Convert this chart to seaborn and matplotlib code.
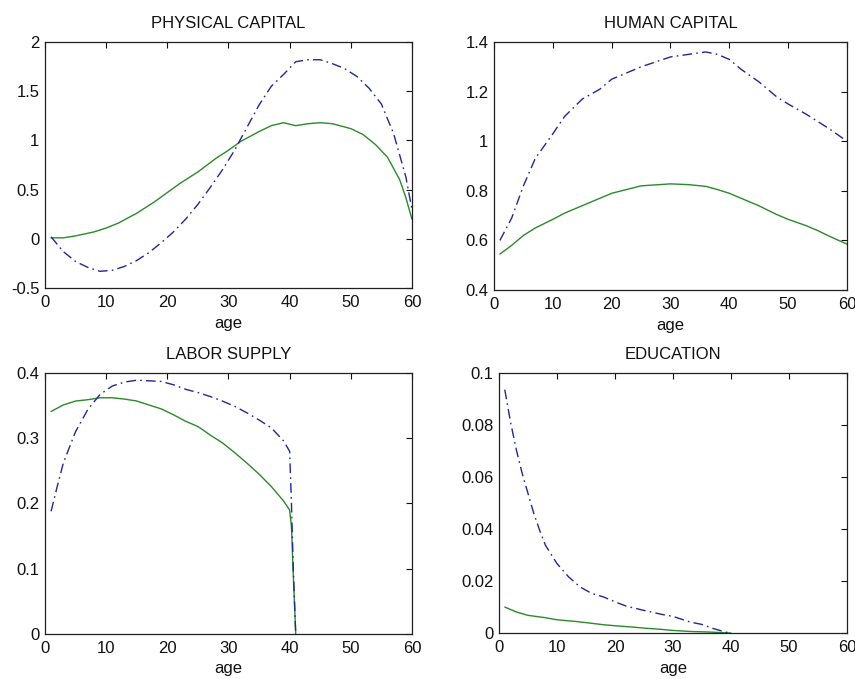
import matplotlib
matplotlib.use('Agg')
import matplotlib.pyplot as plt
import numpy as np
import pandas as pd
import seaborn as sns

# -- Data -----------------------------------------------------------------
# PHYSICAL CAPITAL
pk_age_green = [1, 3, 5, 8, 10, 12, 15, 18, 20, 22, 25, 28, 30, 32, 35, 37, 39, 41, 43, 45, 47, 50, 52, 54, 56, 58, 59, 60]
pk_green = [0.01, 0.01, 0.03, 0.07, 0.11, 0.16, 0.26, 0.38, 0.47, 0.56, 0.68, 0.82, 0.9, 0.99, 1.09, 1.15, 1.18, 1.15, 1.17, 1.18, 1.17, 1.12, 1.06, 0.96, 0.83, 0.6, 0.42, 0.2]
pk_age_blue = [1, 3, 5, 7, 9, 11, 13, 15, 17, 19, 21, 23, 25, 27, 29, 31, 33, 35, 37, 39, 41, 43, 45, 47, 49, 51, 53, 55, 57, 59, 60]
pk_blue = [0.02, -0.13, -0.23, -0.29, -0.33, -0.32, -0.28, -0.22, -0.14, -0.04, 0.07, 0.2, 0.35, 0.52, 0.7, 0.9, 1.13, 1.36, 1.55, 1.67, 1.8, 1.82, 1.82, 1.78, 1.73, 1.65, 1.53, 1.37, 1.07, 0.63, 0.3]

# HUMAN CAPITAL
hk_age = [1, 3, 5, 7, 10, 12, 15, 18, 20, 25, 30, 33, 36, 38, 40, 42, 45, 48, 50, 53, 55, 57, 60]
hk_blue = [0.6, 0.69, 0.82, 0.93, 1.03, 1.1, 1.17, 1.21, 1.25, 1.3, 1.34, 1.35, 1.36, 1.35, 1.33, 1.29, 1.24, 1.18, 1.15, 1.11, 1.08, 1.05, 1.0]
hk_green = [0.545, 0.58, 0.62, 0.65, 0.685, 0.71, 0.74, 0.77, 0.79, 0.82, 0.828, 0.825, 0.818, 0.805, 0.79, 0.77, 0.74, 0.705, 0.685, 0.66, 0.64, 0.617, 0.585]

# LABOR SUPPLY
ls_age = [1, 2, 3, 5, 7, 9, 11, 13, 15, 17, 19, 21, 23, 25, 27, 29, 31, 33, 35, 37, 39, 40, 40.3, 40.6, 41]
ls_blue = [0.188, 0.226, 0.262, 0.31, 0.344, 0.367, 0.38, 0.386, 0.389, 0.388, 0.387, 0.382, 0.375, 0.37, 0.364, 0.357, 0.349, 0.339, 0.328, 0.316, 0.296, 0.28, 0.2, 0.1, 0.0]
ls_green = [0.341, 0.346, 0.351, 0.357, 0.359, 0.362, 0.362, 0.36, 0.357, 0.351, 0.345, 0.336, 0.326, 0.318, 0.305, 0.293, 0.278, 0.262, 0.245, 0.226, 0.204, 0.19, 0.165, 0.09, 0.0]

# EDUCATION
ed_age_blue = [1, 2, 3, 4, 5, 6, 7, 8, 10, 12, 14, 16, 18, 20, 22, 25, 28, 30, 33, 35, 37, 39, 40]
ed_blue = [0.0936, 0.081, 0.0704, 0.0614, 0.0537, 0.046, 0.0396, 0.0338, 0.0267, 0.0216, 0.0177, 0.0152, 0.0139, 0.012, 0.0103, 0.0087, 0.0072, 0.0064, 0.0042, 0.0033, 0.0017, 0.0004, 0.0]
ed_age_green = [1, 3, 5, 8, 10, 13, 15, 18, 20, 23, 25, 28, 30, 33, 36, 40]
ed_green = [0.010, 0.0081, 0.0068, 0.0059, 0.0051, 0.0045, 0.004, 0.0032, 0.0028, 0.0023, 0.0019, 0.0014, 0.001, 0.0006, 0.0004, 0.0]

titles = ['PHYSICAL CAPITAL', 'HUMAN CAPITAL', 'LABOR SUPPLY', 'EDUCATION']
ylims = [(-0.5, 2), (0.4, 1.4), (0, 0.4), (0, 0.1)]
yticks = [[-0.5, 0, 0.5, 1, 1.5, 2], [0.4, 0.6, 0.8, 1, 1.2, 1.4],
          [0, 0.1, 0.2, 0.3, 0.4], [0, 0.02, 0.04, 0.06, 0.08, 0.1]]
ylabels = [['-0.5', '0', '0.5', '1', '1.5', '2'],
           ['0.4', '0.6', '0.8', '1', '1.2', '1.4'],
           ['0', '0.1', '0.2', '0.3', '0.4'],
           ['0', '0.02', '0.04', '0.06', '0.08', '0.1']]

BLUE = '#24249c'
GREEN = '#2a8a2a'

sns.set_style('white')
plt.rcParams['font.family'] = ['Liberation Sans', 'DejaVu Sans']
plt.rcParams['axes.edgecolor'] = '#202020'
plt.rcParams['text.color'] = '#111111'
plt.rcParams['axes.labelcolor'] = '#111111'

fig = plt.figure(figsize=(8.55, 6.79), dpi=100)
boxes = [
    [0.0526, 0.5758, 0.4292, 0.3623],
    [0.5778, 0.5729, 0.4128, 0.3652],
    [0.0526, 0.0663, 0.4292, 0.3844],
    [0.5836, 0.0677, 0.4070, 0.3830],
]
axes = [fig.add_axes(b) for b in boxes]

panels = [
    (pk_age_blue, pk_blue, pk_age_green, pk_green),
    (hk_age, hk_blue, hk_age, hk_green),
    (ls_age, ls_blue, ls_age, ls_green),
    (ed_age_blue, ed_blue, ed_age_green, ed_green),
]

for i, ax in enumerate(axes):
    xb, yb, xg, yg = panels[i]
    df_b = pd.DataFrame({'age': xb, 'value': yb})
    df_g = pd.DataFrame({'age': xg, 'value': yg})
    sns.lineplot(data=df_g, x='age', y='value', ax=ax, color=GREEN, linewidth=1.0)
    sns.lineplot(data=df_b, x='age', y='value', ax=ax, color=BLUE, linewidth=1.0,
                 linestyle=(0, (7, 3, 1.2, 3)))
    ax.set_xlim(0, 60)
    ax.set_ylim(*ylims[i])
    ax.set_xticks([0, 10, 20, 30, 40, 50, 60])
    ax.set_yticks(yticks[i])
    ax.set_yticklabels(ylabels[i])
    ax.tick_params(direction='in', length=4, width=0.8, top=True, right=True,
                   labelsize=12, colors='#111111')
    ax.tick_params(axis='x', pad=5)
    ax.tick_params(axis='y', pad=4)
    ax.set_xlabel('age', fontsize=12, labelpad=4)
    ax.set_ylabel('')
    ax.set_title(titles[i], fontsize=12, pad=10)
    for s in ax.spines.values():
        s.set_linewidth(0.9)

fig.savefig('out.png', dpi=100)
